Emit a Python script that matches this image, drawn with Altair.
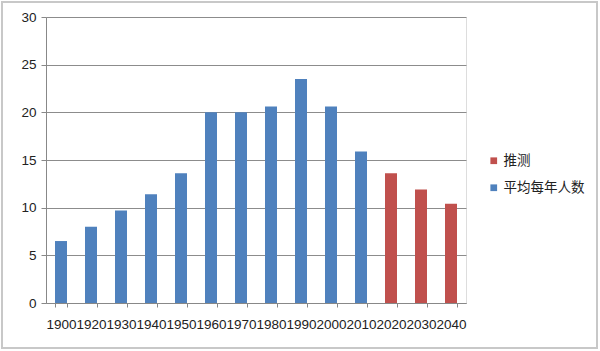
import altair as alt
import pandas as pd

years = ["1900", "1920", "1930", "1940", "1950", "1960", "1970", "1980", "1990", "2000", "2010", "2020", "2030", "2040"]
values = [6.5, 8.0, 9.7, 11.4, 13.6, 20.0, 20.0, 20.6, 23.5, 20.6, 15.9, 13.6, 11.9, 10.4]
series = ["平均每年人数"] * 11 + ["推测"] * 3
legend_order = ["推测", "平均每年人数"]
legend_colors = ["#C0504D", "#4F81BD"]
y_ticks = [0, 5, 10, 15, 20, 25, 30]

df = pd.DataFrame({"year": years, "value": values, "series": series})

bars = alt.Chart(df).mark_bar().encode(
    x=alt.X("year:N", sort=years, title=None,
            scale=alt.Scale(paddingInner=0.6, paddingOuter=0.3),
            axis=alt.Axis(labelAngle=0, labelOverlap=False, labelFont="Liberation Sans",
                          labelFontSize=13.5, labelColor="#222", tickBand="extent",
                          tickSize=4, tickColor="#888", domainColor="#888",
                          labelPadding=10, grid=False)),
    y=alt.Y("value:Q", title=None,
            scale=alt.Scale(domain=[0, 30], nice=False),
            axis=alt.Axis(values=y_ticks, labelFont="Liberation Sans", labelFontSize=13.5,
                          labelColor="#222", tickSize=5, tickColor="#888", domainColor="#888",
                          labelPadding=5, gridColor="#8c8c8c", gridWidth=1)),
    color=alt.Color("series:N", sort=legend_order,
                    scale=alt.Scale(domain=legend_order, range=legend_colors),
                    legend=alt.Legend(title=None, orient="none", legendX=441, legendY=137,
                                      symbolType="square", symbolSize=45, symbolStrokeWidth=0,
                                      labelFont="Noto Sans CJK SC", labelFontSize=13.5,
                                      labelColor="#222", rowPadding=12, labelOffset=3)),
)

border = alt.Chart(df).mark_rect(fill=None, stroke="#c8c8c8", strokeWidth=1.5).encode(
    x=alt.value(-44), x2=alt.value(551), y=alt.value(-15), y2=alt.value(331)
)

chart = alt.layer(border, bars).properties(
    width=420, height=286,
    autosize=alt.AutoSizeParams(type="none"),
    padding={"left": 46, "top": 17, "right": 134, "bottom": 48},
).configure_view(stroke=None).configure(background="white")

chart.save("out.html", embed_options={"renderer": "svg", "actions": False})
